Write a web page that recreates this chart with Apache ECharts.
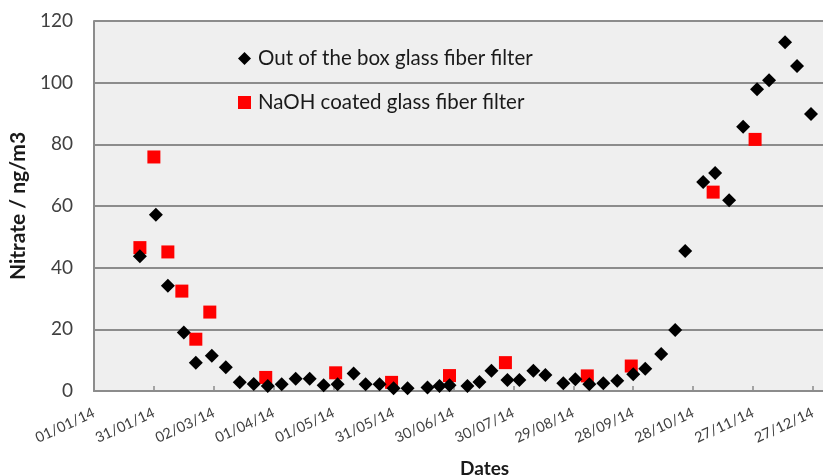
<!DOCTYPE html>
<html>
<head>
<meta charset="utf-8">
<script src="https://cdn.jsdelivr.net/npm/echarts@6/dist/echarts.min.js"></script>
<style>html,body{margin:0;padding:0;background:#fff}#c{width:823px;height:475px}</style>
</head>
<body>
<div id="c"></div>
<script>
// x values: days since 01/01/14
const xTickStart = 0;      // 01/01/14
const xTickStep = 30;      // days
const xMax = 365;
const yTicks = [0, 20, 40, 60, 80, 100, 120];

const outOfBoxDays = [23,31,37,45,51,59,66,73,80,87,94,101,108,115,122,130,136,143,150,157,167,173,178,187,193,199,207,213,220,226,235,241,248,255,262,270,276,284,291,296,305,311,318,325,332,338,346,352,359];
const outOfBoxValues = [43.7,57.2,34.1,19.0,9.2,11.4,7.7,2.8,2.3,1.6,2.2,4.0,4.0,1.9,2.2,5.7,2.2,2.2,0.9,0.9,1.1,1.6,1.9,1.6,2.9,6.6,3.6,3.6,6.6,5.2,2.5,3.8,2.2,2.5,3.3,5.4,7.2,12.0,19.8,45.4,67.8,70.7,61.9,85.7,97.9,100.8,113.1,105.4,89.8];

const naohDays = [23,30,37,44,51,58,86,121,149,178,206,247,269,310,331];
const naohValues = [46.5,75.9,45.1,32.4,16.8,25.6,4.4,5.9,2.8,5.0,9.2,4.9,8.1,64.5,81.6];

const seriesNames = ['Out of the box glass fiber filter', 'NaOH coated glass fiber filter'];

function fmtDate(v) {
  const d = new Date(Date.UTC(2014, 0, 1) + v * 86400000);
  const dd = String(d.getUTCDate()).padStart(2, '0');
  const mm = String(d.getUTCMonth() + 1).padStart(2, '0');
  const yy = String(d.getUTCFullYear() % 100).padStart(2, '0');
  return dd + '/' + mm + '/' + yy;
}

const FONT = 'Lato';
const chart = echarts.init(document.getElementById('c'), null, {renderer: 'canvas'});
chart.setOption({
  animation: false,
  backgroundColor: '#ffffff',
  title: {
    text: 'Dates', left: 455, top: 454,
    textStyle: {fontFamily: FONT, fontWeight: 'bold', fontSize: 19, color: '#1a1a1a'}
  },
  grid: {left: 93, right: 0, top: 21, bottom: 84, show: true, backgroundColor: '#efefef', borderWidth: 0},
  legend: {
    orient: 'vertical', left: 233, top: 43, itemGap: 23,
    itemWidth: 13, itemHeight: 13,
    textStyle: {fontFamily: FONT, fontSize: 20.5, color: '#1a1a1a', padding: [0,0,0,2]},
    data: [{name: seriesNames[0], icon: 'diamond'}, {name: seriesNames[1], icon: 'rect'}]
  },
  xAxis: {
    type: 'value', min: xTickStart, max: xMax, interval: xTickStep,
    axisLine: {show: true, lineStyle: {color: '#8c8c8c', width: 2}},
    axisTick: {show: true, inside: true, length: 5, lineStyle: {color: '#8c8c8c', width: 1.5}},
    splitLine: {show: false},
    axisLabel: {
      rotate: 25, margin: 21, fontFamily: FONT, fontSize: 14.5, color: '#404040',
      showMaxLabel: false,
      formatter: v => fmtDate(v)
    }
  },
  yAxis: {
    type: 'value', min: yTicks[0], max: yTicks[yTicks.length - 1], interval: 20,
    name: 'Nitrate / ng/m3', nameLocation: 'middle', nameGap: 61,
    nameTextStyle: {fontFamily: FONT, fontWeight: 'bold', fontSize: 21, color: '#1a1a1a'},
    axisLine: {show: true, lineStyle: {color: '#8c8c8c', width: 2}},
    axisTick: {show: false},
    splitLine: {show: true, lineStyle: {color: '#8c8c8c', width: 2}},
    axisLabel: {margin: 21, fontFamily: FONT, fontSize: 19, color: '#404040'}
  },
  series: [
    {
      name: seriesNames[0], type: 'scatter', symbol: 'diamond', symbolSize: 14,
      itemStyle: {color: '#000000', opacity: 1},
      data: outOfBoxDays.map((d, i) => [d, outOfBoxValues[i]]),
      z: 3
    },
    {
      name: seriesNames[1], type: 'scatter', symbol: 'rect', symbolSize: 13,
      itemStyle: {color: '#ff0000', opacity: 1},
      data: naohDays.map((d, i) => [d, naohValues[i]]),
      z: 2
    }
  ]
});
</script>
</body>
</html>
